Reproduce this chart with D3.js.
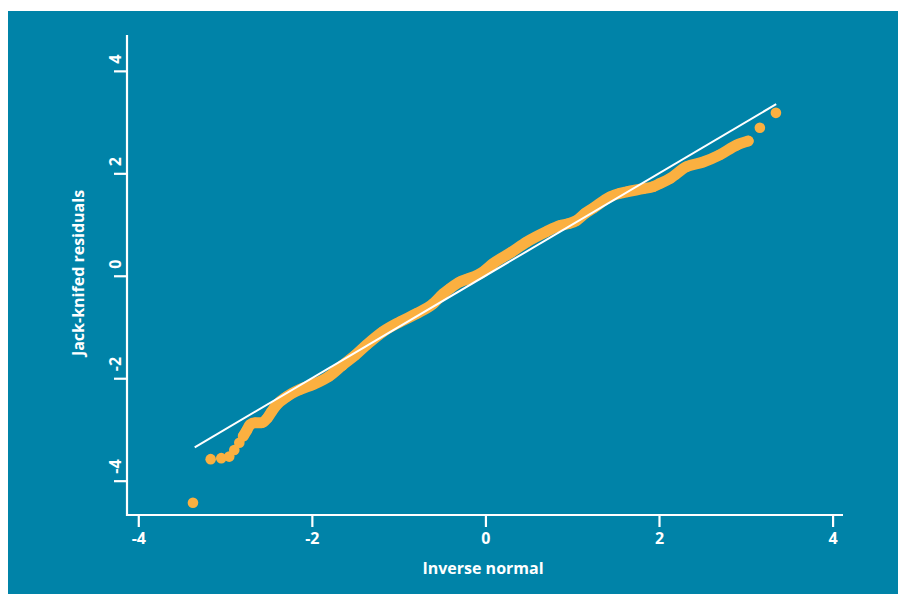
<!DOCTYPE html>
<html>
<head>
<meta charset="utf-8">
<script src="https://cdn.jsdelivr.net/npm/d3@7"></script>
<style>
  html, body { margin: 0; padding: 0; background: #fff; }
  svg text { font-family: "Open Sans", sans-serif; font-weight: 700; fill: #fff; }
</style>
</head>
<body>
<div class="container"></div>
<script>
const WIDTH = 898;
const HEIGHT = 594;

// inverse normal (x) and jack-knifed residuals (y)
var invNormal = [-3.37, -3.166, -3.044, -2.952, -2.894, -2.836, -2.79, -2.751, -2.713, -2.655,
  -2.578, -2.514, -2.463, -2.406, -2.29, -2.137, -1.984, -1.8, -1.65, -1.5,
  -1.37, -1.18, -0.985, -0.79, -0.6, -0.486, -0.41, -0.294, -0.217, -0.025,
  0.09, 0.3, 0.475, 0.7, 0.86, 0.96, 1.05, 1.15, 1.242, 1.434,
  1.55, 1.627, 1.818, 1.933, 2.01, 2.126, 2.318, 2.509, 2.7, 2.894,
  3.028, 3.162, 3.347];
var residuals = [-4.43, -3.58, -3.56, -3.53, -3.40, -3.26, -3.13, -3.02, -2.91, -2.87,
  -2.87, -2.78, -2.65, -2.52, -2.36, -2.22, -2.12, -1.96, -1.75, -1.55,
  -1.35, -1.09, -0.90, -0.735, -0.54, -0.35, -0.25, -0.12, -0.07, 0.08,
  0.24, 0.46, 0.66, 0.86, 0.98, 1.02, 1.08, 1.22, 1.32, 1.54,
  1.61, 1.64, 1.70, 1.74, 1.80, 1.90, 2.13, 2.22, 2.36, 2.55,
  2.63, 2.89, 3.18];
var refLine = [-3.35, 3.35];
var xTicks = [-4, -2, 0, 2, 4];
var yTicks = [-4, -2, 0, 2, 4];

var TEAL = "#0083a8";
var ORANGE = "#fbb040";

var data = invNormal.map(function(d, i) { return {x: d, y: residuals[i]}; });

var svg = d3.select('.container').append('svg')
    .attr('width', WIDTH)
    .attr('height', HEIGHT);

svg.append('rect')
    .attr('x', 8).attr('y', 11)
    .attr('width', WIDTH - 8).attr('height', HEIGHT - 11)
    .attr('fill', TEAL);

var xScale = d3.scaleLinear().domain([-4.13, 4.12]).range([127, 843]);
var yScale = d3.scaleLinear().domain([-4.67, 4.70]).range([515, 35]);

// axes (plain hyphen for negatives, as in the original)
var fmt = function(d) { return String(d); };
var xAxis = d3.axisBottom(xScale).tickValues(xTicks).tickSize(12).tickFormat(fmt);
var yAxis = d3.axisLeft(yScale).tickValues(yTicks).tickSize(13).tickFormat(fmt);

var gx = svg.append('g')
    .attr('transform', 'translate(0,' + 515 + ')')
    .call(xAxis);
var gy = svg.append('g')
    .attr('transform', 'translate(' + 127 + ',0)')
    .call(yAxis);

[gx, gy].forEach(function(g) {
    g.selectAll('.domain').attr('stroke', '#fff').attr('stroke-width', 2.2);
    g.selectAll('.tick line').attr('stroke', '#fff').attr('stroke-width', 2.2);
    g.selectAll('.tick text').attr('fill', '#fff').style('font-size', '16px');
});
gx.selectAll('.domain').attr('d', 'M126,0H' + 843);
gx.selectAll('.tick text').attr('y', 0).attr('dy', 29);
gy.selectAll('.domain').attr('d', 'M0,' + 35 + 'V' + 516);
gy.selectAll('.tick text')
    .attr('x', 0).attr('dy', 0)
    .attr('text-anchor', 'start')
    .attr('transform', 'translate(-6,-7.5) rotate(-90)');

// data band + points
var band = data.filter(function(d) { return d.x > -2.8 && d.x < 3.1; });
var line = d3.line()
    .curve(d3.curveMonotoneX)
    .x(function(d) { return xScale(d.x); })
    .y(function(d) { return yScale(d.y); });

svg.append('path')
    .attr('d', line(band))
    .attr('fill', 'none')
    .attr('stroke', ORANGE)
    .attr('stroke-width', 11)
    .attr('stroke-linecap', 'round')
    .attr('stroke-linejoin', 'round');

svg.selectAll('circle.pt')
    .data(data)
    .enter().append('circle')
    .attr('class', 'pt')
    .attr('cx', function(d) { return xScale(d.x); })
    .attr('cy', function(d) { return yScale(d.y); })
    .attr('r', 5.3)
    .attr('fill', ORANGE);

// reference line y = x
svg.append('line')
    .attr('x1', xScale(refLine[0])).attr('y1', yScale(refLine[0]))
    .attr('x2', xScale(refLine[1])).attr('y2', yScale(refLine[1]))
    .attr('stroke', '#fff')
    .attr('stroke-width', 2);

// titles
svg.append('text')
    .attr('x', 483).attr('y', 574)
    .attr('text-anchor', 'middle')
    .style('font-size', '16px')
    .text('Inverse normal');

svg.append('text')
    .attr('transform', 'translate(84,273) rotate(-90)')
    .attr('text-anchor', 'middle')
    .style('font-size', '16px')
    .text('Jack-knifed residuals');
</script>
</body>
</html>
